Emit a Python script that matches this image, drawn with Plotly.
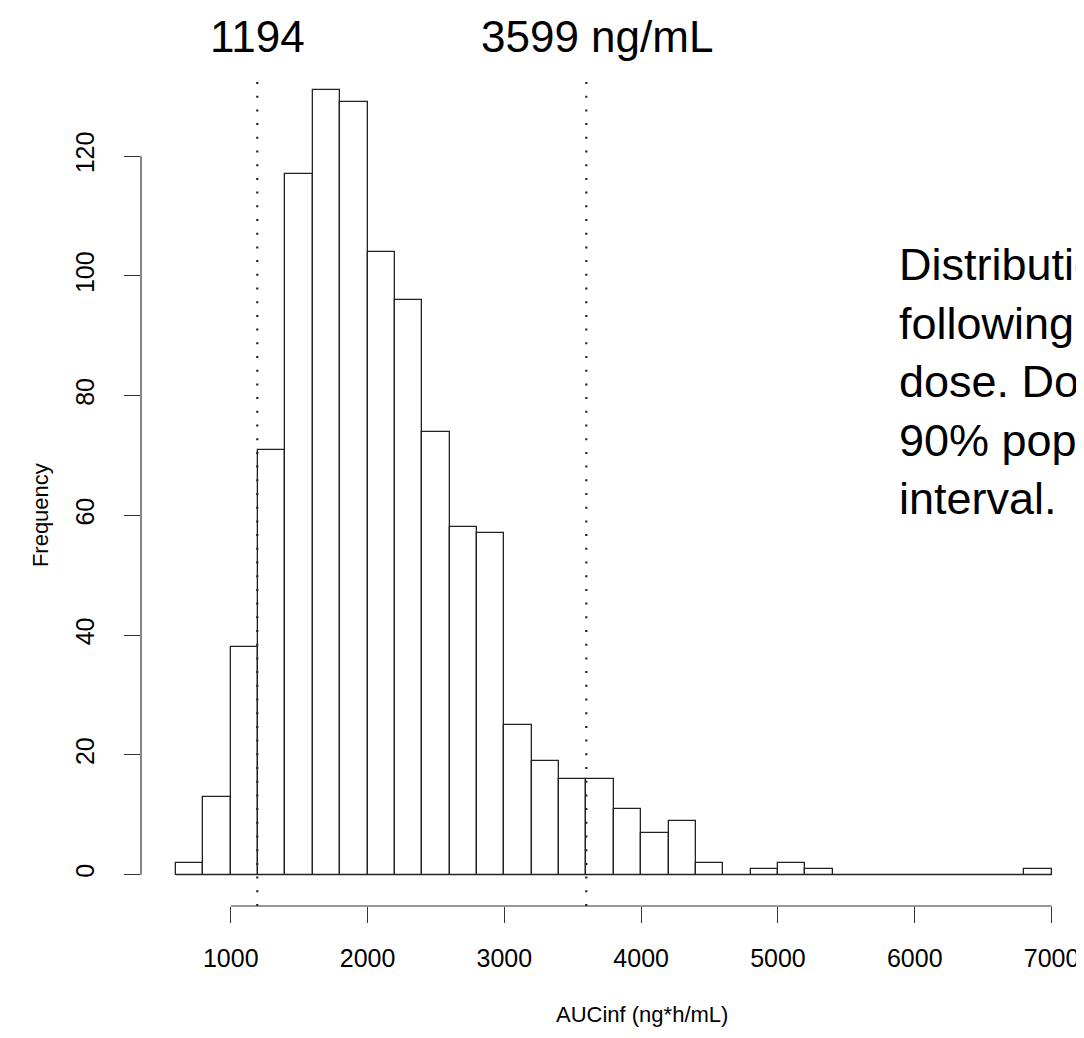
import plotly.graph_objects as go

# ---- data ----
bin_left = [600, 800, 1000, 1200, 1400, 1600, 1800, 2000, 2200, 2400, 2600, 2800,
            3000, 3200, 3400, 3600, 3800, 4000, 4200, 4400, 4600, 4800, 5000, 5200,
            5400, 5600, 5800, 6000, 6200, 6400, 6600, 6800]
bin_width = 200
counts = [2, 13, 38, 71, 117, 131, 129, 104, 96, 74, 58, 57,
          25, 19, 16, 16, 11, 7, 9, 2, 0, 1, 2, 1,
          0, 0, 0, 0, 0, 0, 0, 1]
pi_limits = [1194, 3599]
pi_labels = ["1194", "3599 ng/mL"]
x_ticks = [1000, 2000, 3000, 4000, 5000, 6000, 7000]
y_ticks = [0, 20, 40, 60, 80, 100, 120]
note_lines = ["Distribution of AUCinf", "following a single oral",
              "dose. Dotted lines show the", "90% population prediction", "interval."]

FONT = "Liberation Sans, Arial, Helvetica, sans-serif"
centers = [b + bin_width / 2 for b in bin_left]

fig = go.Figure()
fig.add_trace(go.Bar(
    x=centers, y=counts, width=bin_width,
    marker=dict(color="white", line=dict(color="#222222", width=1.3)),
    showlegend=False, hoverinfo="x+y",
))

shapes = []
# baseline under the bars (zero-height bins)
shapes.append(dict(type="line", xref="x", yref="y", x0=bin_left[0], x1=bin_left[-1] + bin_width,
                   y0=0, y1=0, line=dict(color="#222222", width=1.3)))
# R-style axis lines spanning tick range only
shapes.append(dict(type="line", xref="x", yref="paper", x0=x_ticks[0], x1=x_ticks[-1],
                   y0=0, y1=0, line=dict(color="#333333", width=1.2)))
shapes.append(dict(type="line", xref="paper", yref="y", x0=0, x1=0,
                   y0=y_ticks[0], y1=y_ticks[-1], line=dict(color="#333333", width=1.2)))
# dotted prediction interval lines
for v in pi_limits:
    shapes.append(dict(type="line", xref="x", yref="paper", x0=v, x1=v, y0=0, y1=0.985,
                       line=dict(color="#222222", width=2.2, dash="2px,11.7px")))

annotations = [
    dict(text=pi_labels[0], xref="x", yref="paper", x=pi_limits[0], y=1.058,
         xanchor="center", yanchor="top", showarrow=False,
         font=dict(family=FONT, size=44, color="black")),
    dict(text=pi_labels[1], xref="paper", yref="paper", x=0.358, y=1.058,
         xanchor="left", yanchor="top", showarrow=False,
         font=dict(family=FONT, size=44, color="black")),
    dict(text="<br>".join(note_lines), xref="paper", yref="paper", x=0.802, y=0.79,
         xanchor="left", yanchor="top", align="left", showarrow=False,
         font=dict(family=FONT, size=45, color="black")),
    dict(text="AUCinf (ng*h/mL)", xref="paper", yref="paper", x=0.531, y=-0.128,
         xanchor="center", yanchor="middle", showarrow=False,
         font=dict(family=FONT, size=22, color="black")),
    dict(text="Frequency", xref="paper", yref="paper", x=-0.107, y=0.4616,
         xanchor="center", yanchor="middle", textangle=-90, showarrow=False,
         font=dict(family=FONT, size=22, color="black")),
]

fig.update_layout(
    width=1076, height=1030,
    margin=dict(l=133, r=0, t=51, b=132),
    plot_bgcolor="white", paper_bgcolor="white",
    bargap=0,
    shapes=shapes, annotations=annotations,
    font=dict(family=FONT, color="black"),
    xaxis=dict(range=[344, 7237], tickvals=x_ticks, ticktext=[str(t) for t in x_ticks],
               showgrid=False, zeroline=False, showline=False,
               ticks="outside", ticklen=16, tickwidth=1.2, tickcolor="#333333",
               ticklabelstandoff=14,
               tickfont=dict(family=FONT, size=25, color="black")),
    yaxis=dict(range=[-5.24, 136.24], tickvals=y_ticks, ticktext=[str(t) for t in y_ticks],
               tickangle=-90,
               showgrid=False, zeroline=False, showline=False,
               ticks="outside", ticklen=16, tickwidth=1.2, tickcolor="#333333",
               ticklabelstandoff=20,
               tickfont=dict(family=FONT, size=25, color="black")),
)

fig.write_html("out.html")
